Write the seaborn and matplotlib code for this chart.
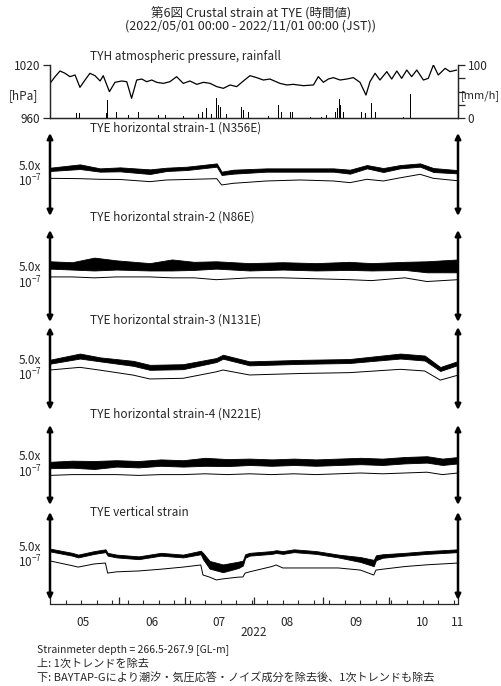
import numpy as np
import pandas as pd
import matplotlib
matplotlib.use('Agg')
import matplotlib.pyplot as plt
import matplotlib.dates as mdates
import seaborn as sns

sns.set_style('white')
plt.rcParams['font.family'] = ['Noto Sans CJK JP', 'DejaVu Sans']
plt.rcParams['mathtext.default'] = 'regular'

start = pd.Timestamp('2022-05-01')
end = pd.Timestamp('2022-11-01')

# atmospheric pressure [hPa] (days after 2022-05-01)
p_days = [0, 2.3, 4.5, 6.8, 9.0, 11.3, 13.5, 15.8, 18.0, 20.3, 22.6, 24.0, 26.8, 29.3, 32.3,
          34.6, 36.8, 39.1, 41.4, 43.6, 45.9, 48.1, 51.1, 54.1, 57.1, 60.1, 63.1, 66.2, 69.2,
          72.2, 75.2, 78.2, 81.2, 84.2, 87.2, 90.2, 93.2, 96.2, 99.2, 103.7, 106.8, 109.7,
          114.3, 118.8, 121.0, 123.3, 125.5, 127.8, 130.8, 133.8, 136.8, 139.8, 142.5, 144.3,
          146.6, 148.8, 151.9, 154.1, 156.4, 158.6, 160.9, 163.1, 165.4, 168.4, 170.6, 172.9,
          175.1, 178.2, 180.4, 183.4]
p_hpa = [999.2, 1006.8, 1013.2, 1010.6, 1006.8, 1008.7, 994.7, 1003.0, 1010.6, 1007.9, 1001.9,
         1007.9, 989.8, 1000.4, 1001.9, 1001.1, 982.3, 1003.0, 1004.1, 1001.1, 1003.0, 1000.4,
         999.2, 1001.1, 1006.8, 999.2, 1001.9, 998.1, 1000.4, 999.2, 995.5, 993.6, 997.4,
         995.5, 1001.9, 1007.9, 1005.7, 1003.0, 1004.1, 999.2, 997.4, 998.1, 996.6, 997.4,
         1006.8, 1000.4, 1004.1, 1005.7, 1003.0, 1004.1, 1005.7, 1000.4, 986.0, 1001.1,
         1010.6, 1003.0, 1012.5, 1004.1, 1013.2, 1004.9, 1014.3, 1006.8, 1014.3, 1003.0,
         1004.9, 1020.0, 1008.7, 1016.2, 1012.5, 1014.3]

# rainfall [mm/h]
rain_days = [0.3, 9.0, 12.0, 13.2, 25.3, 26.0, 30.1, 35.3, 39.8, 45.1, 48.8, 51.9, 55.9, 60.1,
             65.4, 66.9, 68.9, 69.9, 70.7, 72.9, 74.9, 75.9, 77.0, 79.7, 83.0, 86.5, 87.2, 89.5,
             94.7, 98.5, 103.0, 103.7, 104.5, 108.3, 109.3, 117.3, 122.5, 124.8, 128.6, 129.6,
             130.4, 131.1, 132.3, 140.6, 142.1, 145.1, 146.1, 146.6, 159.4, 162.4]
rain_mm = [2.5, 2.5, 8.8, 8.8, 8.8, 34.0, 10.7, 5.7, 12.0, 5.7, 5.7, 5.7, 6.9, 4.4,
           12.0, 6.9, 12.0, 44.7, 18.2, 6.9, 38.4, 24.5, 21.4, 6.9, 4.4, 21.4, 15.1, 10.7,
           2.5, 4.4, 24.5, 18.2, 12.0, 12.0, 12.0, 1.3, 2.5, 5.7, 12.0, 18.2,
           35.8, 24.5, 12.0, 10.7, 8.8, 27.7, 43.4, 12.0, 2.5, 44.7]

# strain, unit 1e-7 (arrow = 5.0e-7)
# upper trace: detrended (with tides) -> centre + half width of tidal band
# lower trace: after BAYTAP-G
s1_days = [0, 13.5, 22.6, 31.6, 45.1, 52.6, 61.7, 75.2, 77.4, 82.7, 97.7, 112.8, 127.8, 135.3,
           142.9, 150.3, 157.9, 166.9, 172.9, 183.4]
s1_up = [0.31, 0.47, 0.27, 0.31, 0.17, 0.31, 0.37, 0.57, 0.07, 0.17, 0.27, 0.27, 0.27, 0.17,
         0.47, 0.27, 0.47, 0.57, 0.27, 0.17]
s1_amp = [0.1, 0.14, 0.1, 0.12, 0.14, 0.1, 0.1, 0.1, 0.1, 0.12, 0.1, 0.1, 0.1, 0.12,
          0.1, 0.12, 0.1, 0.1, 0.12, 0.1]
s1_low = [-0.23, -0.25, -0.29, -0.3, -0.43, -0.33, -0.3, -0.25, -0.63, -0.53, -0.39, -0.33,
          -0.39, -0.49, -0.29, -0.39, -0.2, 0.01, -0.23, -0.37]

s2_days = [0, 10, 20, 30, 45, 55, 65, 75, 90, 105, 120, 135, 145, 160, 170, 184]
s2_up = [0.6, 0.55, 0.65, 0.6, 0.5, 0.6, 0.55, 0.6, 0.5, 0.55, 0.5, 0.55, 0.5, 0.55, 0.5, 0.55]
s2_amp = [0.2, 0.2, 0.35, 0.25, 0.2, 0.3, 0.22, 0.2, 0.2, 0.2, 0.2, 0.22, 0.2, 0.22, 0.3, 0.35]
s2_low = [-0.05, -0.05, -0.1, -0.05, -0.05, -0.1, -0.1, -0.2, -0.1, -0.1, -0.15, -0.2, -0.25,
          -0.1, -0.3, -0.2]

s3_days = [0, 13.5, 22.6, 37.6, 45, 60, 75, 78, 90, 113, 135, 158, 169, 176, 184]
s3_up = [0.41, 0.75, 0.55, 0.31, 0.07, 0.11, 0.51, 0.71, 0.31, 0.4, 0.45, 0.75, 0.63, -0.03, 0.33]
s3_amp = [0.12, 0.15, 0.12, 0.15, 0.15, 0.15, 0.12, 0.12, 0.12, 0.12, 0.12, 0.15, 0.15, 0.12,
          0.12]
s3_low = [-0.09, 0.07, -0.1, -0.4, -0.63, -0.59, -0.2, -0.09, -0.39, -0.3, -0.25, -0.05, -0.15,
          -0.7, -0.4]

s4_days = [0, 10, 20, 30, 40, 50, 60, 70, 80, 90, 100, 110, 120, 130, 140, 150, 160, 170, 177, 184]
s4_up = [0.0, 0.05, 0.0, 0.1, 0.05, 0.15, 0.1, 0.2, 0.15, 0.2, 0.15, 0.2, 0.15, 0.2, 0.25, 0.2,
         0.3, 0.35, 0.2, 0.3]
s4_amp = [0.2, 0.22, 0.25, 0.2, 0.2, 0.2, 0.2, 0.25, 0.22, 0.2, 0.2, 0.2, 0.2, 0.2, 0.2, 0.2,
          0.2, 0.2, 0.2, 0.2]
s4_low = [-0.65, -0.6, -0.6, -0.6, -0.65, -0.6, -0.6, -0.55, -0.6, -0.55, -0.6, -0.55, -0.6,
          -0.55, -0.5, -0.55, -0.5, -0.45, -0.6, -0.5]

s5_days = [0, 10, 12.7, 20, 25, 26, 30, 40, 50, 60, 68, 69, 72, 75, 78, 85, 87, 88, 90, 100,
           102, 105, 110, 120, 130, 140, 146, 147, 150, 160, 170, 184]
s5_up = [0.34, 0.1, 0.0, 0.2, 0.3, 0.1, 0.0, -0.1, 0.1, 0.0, 0.2, 0.0, -0.5, -0.6, -0.7, -0.5,
         -0.4, 0.0, 0.1, 0.2, 0.25, 0.2, 0.3, 0.2, 0.0, -0.2, -0.4, -0.1, 0.0, 0.1, 0.2, 0.3]
s5_amp = [0.08, 0.08, 0.08, 0.08, 0.08, 0.08, 0.08, 0.08, 0.08, 0.08, 0.1, 0.18, 0.22, 0.22,
          0.22, 0.18, 0.14, 0.1, 0.08, 0.08, 0.08, 0.08, 0.08, 0.08, 0.08, 0.14, 0.18, 0.14,
          0.1, 0.08, 0.08, 0.08]
s5_low = [-0.28, -0.55, -0.63, -0.45, -0.4, -0.97, -0.9, -0.85, -0.75, -0.63, -0.51, -1.08,
          -1.2, -1.36, -1.3, -1.2, -1.19, -0.97, -0.9, -0.6, -0.51, -0.68, -0.68, -0.68, -0.68,
          -0.8, -1.08, -0.8, -0.75, -0.6, -0.5, -0.4]

titles = ['TYE horizontal strain-1 (N356E)', 'TYE horizontal strain-2 (N86E)',
          'TYE horizontal strain-3 (N131E)', 'TYE horizontal strain-4 (N221E)',
          'TYE vertical strain']
month_labels = ['05', '06', '07', '08', '09', '10', '11']
month_label_dates = ['2022-05-16', '2022-06-16', '2022-07-16', '2022-08-16', '2022-09-16',
                     '2022-10-16', '2022-11-01']


def to_dates(days):
    return start + pd.to_timedelta(np.array(days), unit='D')


W, H = 502, 686
fig = plt.figure(figsize=(W / 100, H / 100), dpi=100)


def box(x0, y0, x1, y1):
    # pixel box (top-left origin) -> figure fraction
    return [x0 / W, 1 - y1 / H, (x1 - x0) / W, (y1 - y0) / H]


fs = 8.5

fig.text(251 / W, 1 - 14 / H, '第6図 Crustal strain at TYE (時間値)', ha='center', va='center',
         fontsize=9)
fig.text(251 / W, 1 - 26 / H, '(2022/05/01 00:00 - 2022/11/01 00:00 (JST))', ha='center',
         va='center', fontsize=9)

# pressure / rain panel
ax_p = fig.add_axes(box(50, 65, 458, 118))
ax_r = ax_p.twinx()
ax_r.bar(to_dates(rain_days), rain_mm, width=0.4, color='black', linewidth=0)
sns.lineplot(x=to_dates(p_days), y=p_hpa, ax=ax_p, color='black', linewidth=0.9)
ax_p.set_ylim(960, 1020)
ax_r.set_ylim(0, 100)
ax_p.set_xlim(start, end)
ax_p.set_zorder(ax_r.get_zorder() + 1)
ax_p.patch.set_visible(False)
for a in (ax_p, ax_r):
    a.set_xlabel('')
    a.set_ylabel('')
    a.spines['top'].set_visible(False)
    for s in ('left', 'right', 'bottom'):
        a.spines[s].set_linewidth(0.9)
    a.tick_params(axis='x', bottom=False, labelbottom=False)
ax_p.set_yticks([960, 1020])
ax_p.tick_params(axis='y', direction='out', length=5, width=0.9, pad=2, labelsize=fs)
ax_r.set_yticks([0, 100])
ax_r.set_yticks([25, 50, 75], minor=True)
ax_r.tick_params(axis='y', which='both', direction='out', length=5, width=0.9, pad=2,
                 labelsize=fs)
ax_p.text(-0.03, 0.42, '[hPa]', transform=ax_p.transAxes, ha='right', va='center', fontsize=fs)
ax_r.text(1.008, 0.42, '[mm/h]', transform=ax_r.transAxes, ha='left', va='center', fontsize=8)
ax_p.text(0.098, 1.16, 'TYH atmospheric pressure, rainfall', transform=ax_p.transAxes,
          ha='left', va='center', fontsize=fs)

# strain panels (pixel extent of the scale arrows)
panels = [(133, 216), (230, 322), (327, 410), (425, 505), (512, 600)]
title_y = [128, 217, 320, 414, 513]
series = [(s1_days, s1_up, s1_amp, s1_low), (s2_days, s2_up, s2_amp, s2_low),
          (s3_days, s3_up, s3_amp, s3_low), (s4_days, s4_up, s4_amp, s4_low),
          (s5_days, s5_up, s5_amp, s5_low)]

axes = []
for i, ((top, bot), (d, up, amp, low)) in enumerate(zip(panels, series)):
    last = i == len(panels) - 1
    ax_bot = 604 if last else bot
    ax = fig.add_axes(box(50, top, 458, ax_bot))
    ppu = (bot - top) / 5.0
    ymin = -2.5 - (ax_bot - bot) / ppu
    dates = to_dates(d)
    up = np.array(up)
    amp = np.array(amp)
    ax.fill_between(dates, up - amp, up + amp, color='black', linewidth=0.6)
    sns.lineplot(x=dates, y=low, ax=ax, color='black', linewidth=0.7)
    ax.set_xlim(start, end)
    ax.set_ylim(ymin, 2.5)
    ax.set_xlabel('')
    ax.set_ylabel('')
    ax.set_yticks([])
    ax.tick_params(axis='x', bottom=False, labelbottom=False)
    for s in ('top', 'left', 'right', 'bottom'):
        ax.spines[s].set_visible(False)
    arrow_lo = (ax_bot - bot) / (ax_bot - top)
    for xa in (0, 1):
        ax.annotate('', xy=(xa, 1), xytext=(xa, arrow_lo), xycoords='axes fraction',
                    arrowprops=dict(arrowstyle='<|-|>', color='black', lw=1.8,
                                    mutation_scale=8, shrinkA=0, shrinkB=0))
    yc = arrow_lo + (1 - arrow_lo) / 2
    ax.text(-0.049, yc, '5.0x\n$10^{-7}$', transform=ax.transAxes, ha='center', va='center',
            fontsize=fs, linespacing=1.0)
    ax.text(0.098, 1 - (title_y[i] - top) / (ax_bot - top), titles[i], transform=ax.transAxes,
            ha='left', va='center', fontsize=fs)
    axes.append(ax)

ax = axes[-1]
ax.spines['bottom'].set_visible(True)
ax.spines['bottom'].set_linewidth(0.9)
ax.xaxis.set_major_locator(mdates.MonthLocator())
ax.xaxis.set_minor_locator(mdates.WeekdayLocator(byweekday=mdates.SU))
ax.xaxis.set_major_formatter(plt.NullFormatter())
ax.xaxis.set_minor_formatter(plt.NullFormatter())
ax.tick_params(axis='x', which='major', direction='in', length=5, width=0.9, bottom=True)
ax.tick_params(axis='x', which='minor', direction='in', length=3, width=0.8, bottom=True)
for lab, dt in zip(month_labels, month_label_dates):
    ax.text(pd.Timestamp(dt), -18 / 92, lab, transform=ax.get_xaxis_transform(), ha='center',
            va='center', fontsize=fs)
ax.text(0.5, -29 / 92, '2022', transform=ax.transAxes, ha='center', va='center', fontsize=fs)

fig.text(37 / W, 1 - 650 / H, 'Strainmeter depth = 266.5-267.9 [GL-m]', ha='left', va='center',
         fontsize=7.5)
fig.text(37 / W, 1 - 664 / H, '上: 1次トレンドを除去', ha='left', va='center', fontsize=8)
fig.text(37 / W, 1 - 678 / H, '下: BAYTAP-Gにより潮汐・気圧応答・ノイズ成分を除去後、1次トレンドも除去',
         ha='left', va='center', fontsize=8)

fig.savefig('out.png', dpi=100)
